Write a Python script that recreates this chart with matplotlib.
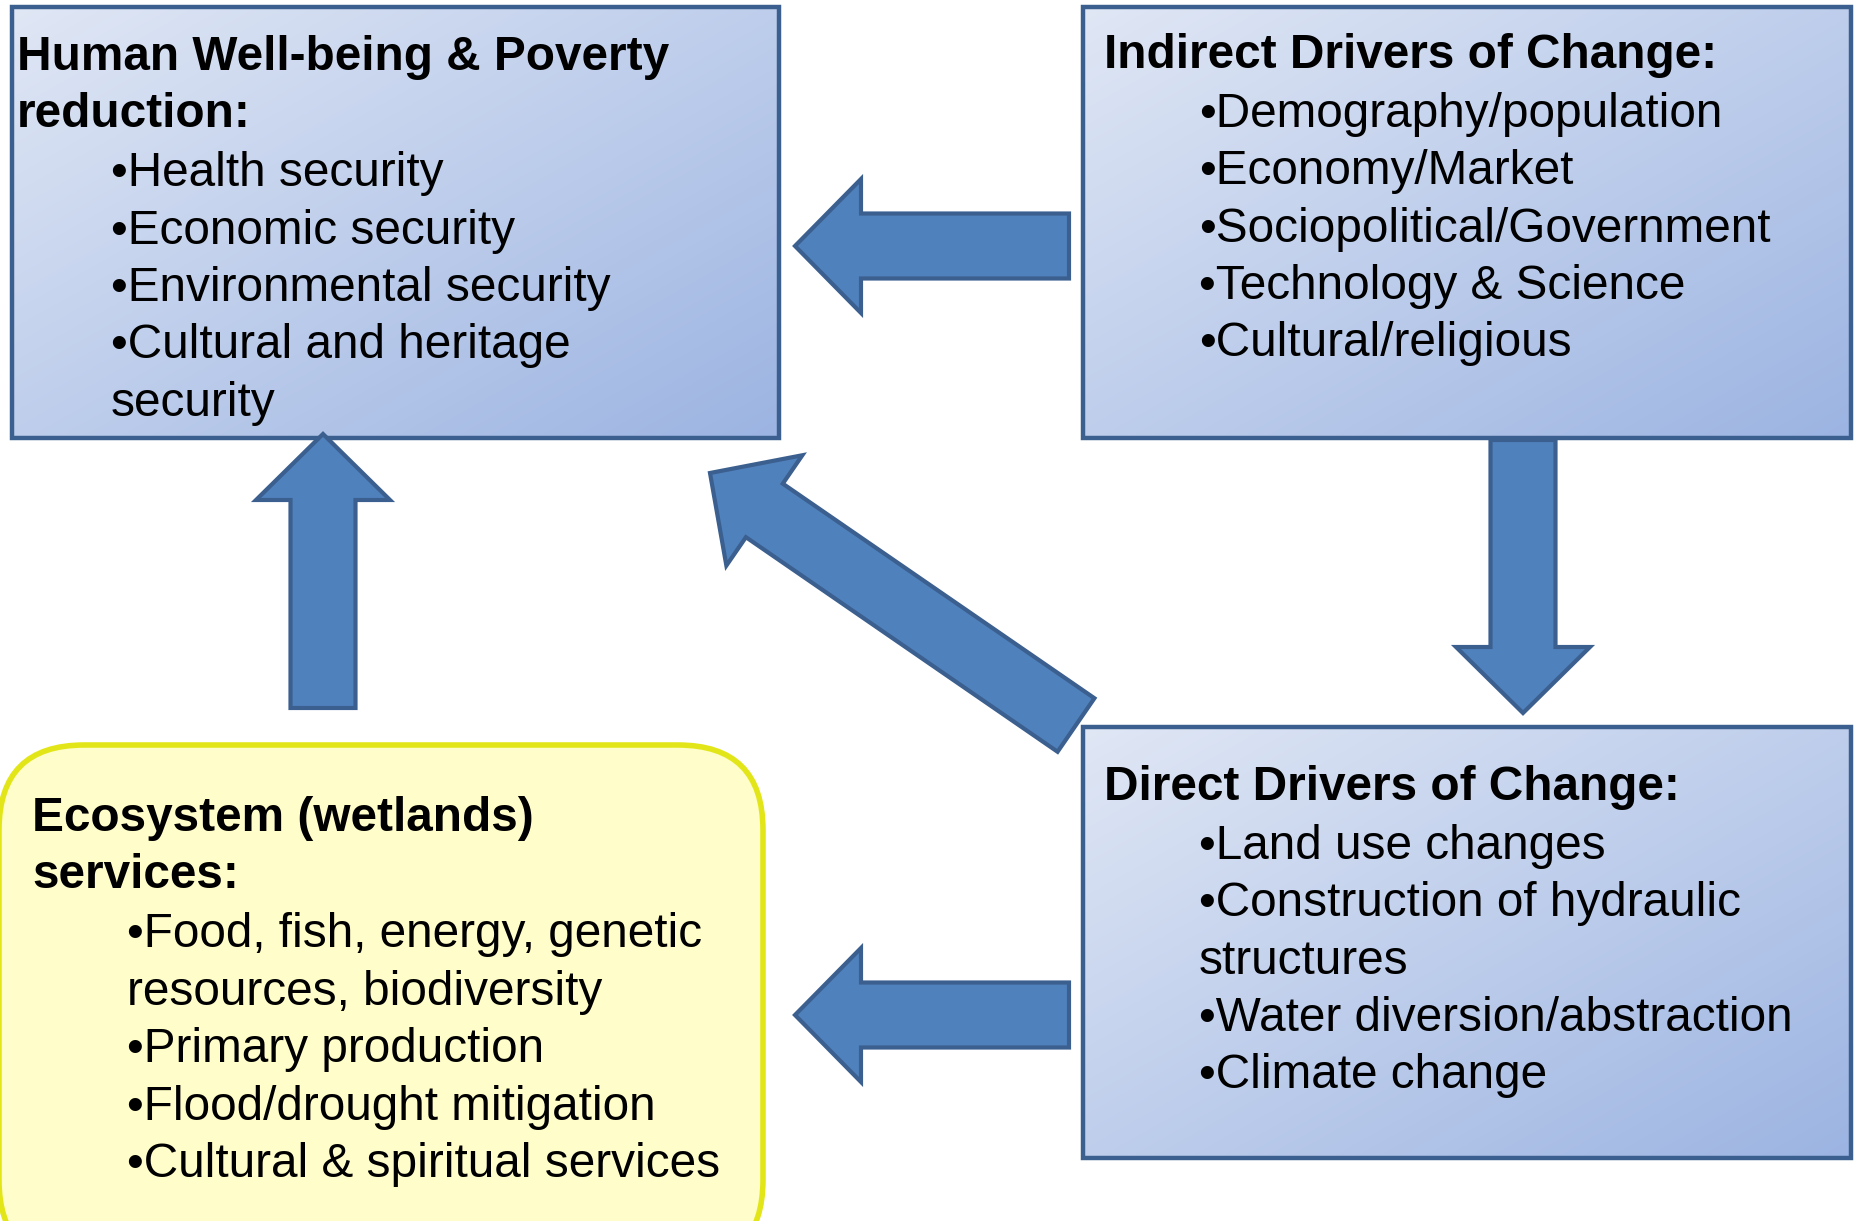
import numpy as np
import matplotlib.pyplot as plt
from matplotlib.patches import Rectangle, FancyBboxPatch, FancyArrow

plt.rcParams['font.family'] = ['Liberation Sans', 'DejaVu Sans']

# box contents
wellbeing_title = ["Human Well-being & Poverty", "reduction:"]
wellbeing_items = ["\u2022Health security", "\u2022Economic security",
                   "\u2022Environmental security", "\u2022Cultural and heritage",
                   "security"]
indirect_title = ["Indirect Drivers of Change:"]
indirect_items = ["\u2022Demography/population", "\u2022Economy/Market",
                  "\u2022Sociopolitical/Government", "\u2022Technology & Science",
                  "\u2022Cultural/religious"]
direct_title = ["Direct Drivers of Change:"]
direct_items = ["\u2022Land use changes", "\u2022Construction of hydraulic",
                "structures", "\u2022Water diversion/abstraction",
                "\u2022Climate change"]
eco_title = ["Ecosystem (wetlands)", "services:"]
eco_items = ["\u2022Food, fish, energy, genetic", "resources, biodiversity",
             "\u2022Primary production", "\u2022Flood/drought mitigation",
             "\u2022Cultural & spiritual services"]

W, H = 1856, 1221
fig = plt.figure(figsize=(W / 100, H / 100), dpi=100)
ax = fig.add_axes([0, 0, 1, 1])
ax.set_xlim(0, W)
ax.set_ylim(H, 0)
ax.axis('off')

edge = '#3b5f8e'
arrow_face = '#4f81bd'
fs = 34.4
step = 57.4


def grad_box(x0, y0, x1, y1):
    n = 200
    u = np.linspace(0, 1, n)
    t = (u[None, :] + u[:, None]) / 2
    c0 = np.array([224, 231, 245]) / 255
    c1 = np.array([156, 180, 226]) / 255
    img = c0 + (c1 - c0) * t[..., None]
    ax.imshow(img, extent=(x0, x1, y1, y0), origin='upper', aspect='auto',
              interpolation='bilinear', zorder=1)
    ax.add_patch(Rectangle((x0, y0), x1 - x0, y1 - y0, fill=False,
                           edgecolor=edge, linewidth=3.2, zorder=2))


def write(x_head, x_item, y0, title, items):
    y = y0
    for line in title:
        ax.text(x_head, y, line, fontsize=fs, fontweight='bold',
                ha='left', va='baseline', zorder=5)
        y += step
    for line in items:
        ax.text(x_item, y + 1.5, line, fontsize=fs, ha='left', va='baseline',
                zorder=5)
        y += step


grad_box(12, 7, 779, 438)
grad_box(1083, 7, 1851, 438)
grad_box(1083, 727, 1851, 1158)

ax.add_patch(FancyBboxPatch((-1, 745), 764, 520,
                            boxstyle='round,pad=0,rounding_size=85',
                            facecolor='#fffdc9', edgecolor='#e2e619',
                            linewidth=4.0, zorder=2))

write(17, 111, 70, wellbeing_title, wellbeing_items)
write(1104, 1199, 68, indirect_title, indirect_items)
write(1104, 1199, 800, direct_title, direct_items)
write(32, 127, 831, eco_title, eco_items)


def arrow(x0, y0, x1, y1):
    ax.add_patch(FancyArrow(x0, y0, x1 - x0, y1 - y0, width=65,
                            head_width=134, head_length=66,
                            length_includes_head=True, facecolor=arrow_face,
                            edgecolor=edge, linewidth=3.0, zorder=4))


arrow(1069, 246, 795, 246)
arrow(1069, 1015, 795, 1015)
arrow(323, 708, 323, 434)
arrow(1523, 440, 1523, 713)
arrow(1076, 725, 710, 473)

fig.savefig('out.png', dpi=100, facecolor='white')
